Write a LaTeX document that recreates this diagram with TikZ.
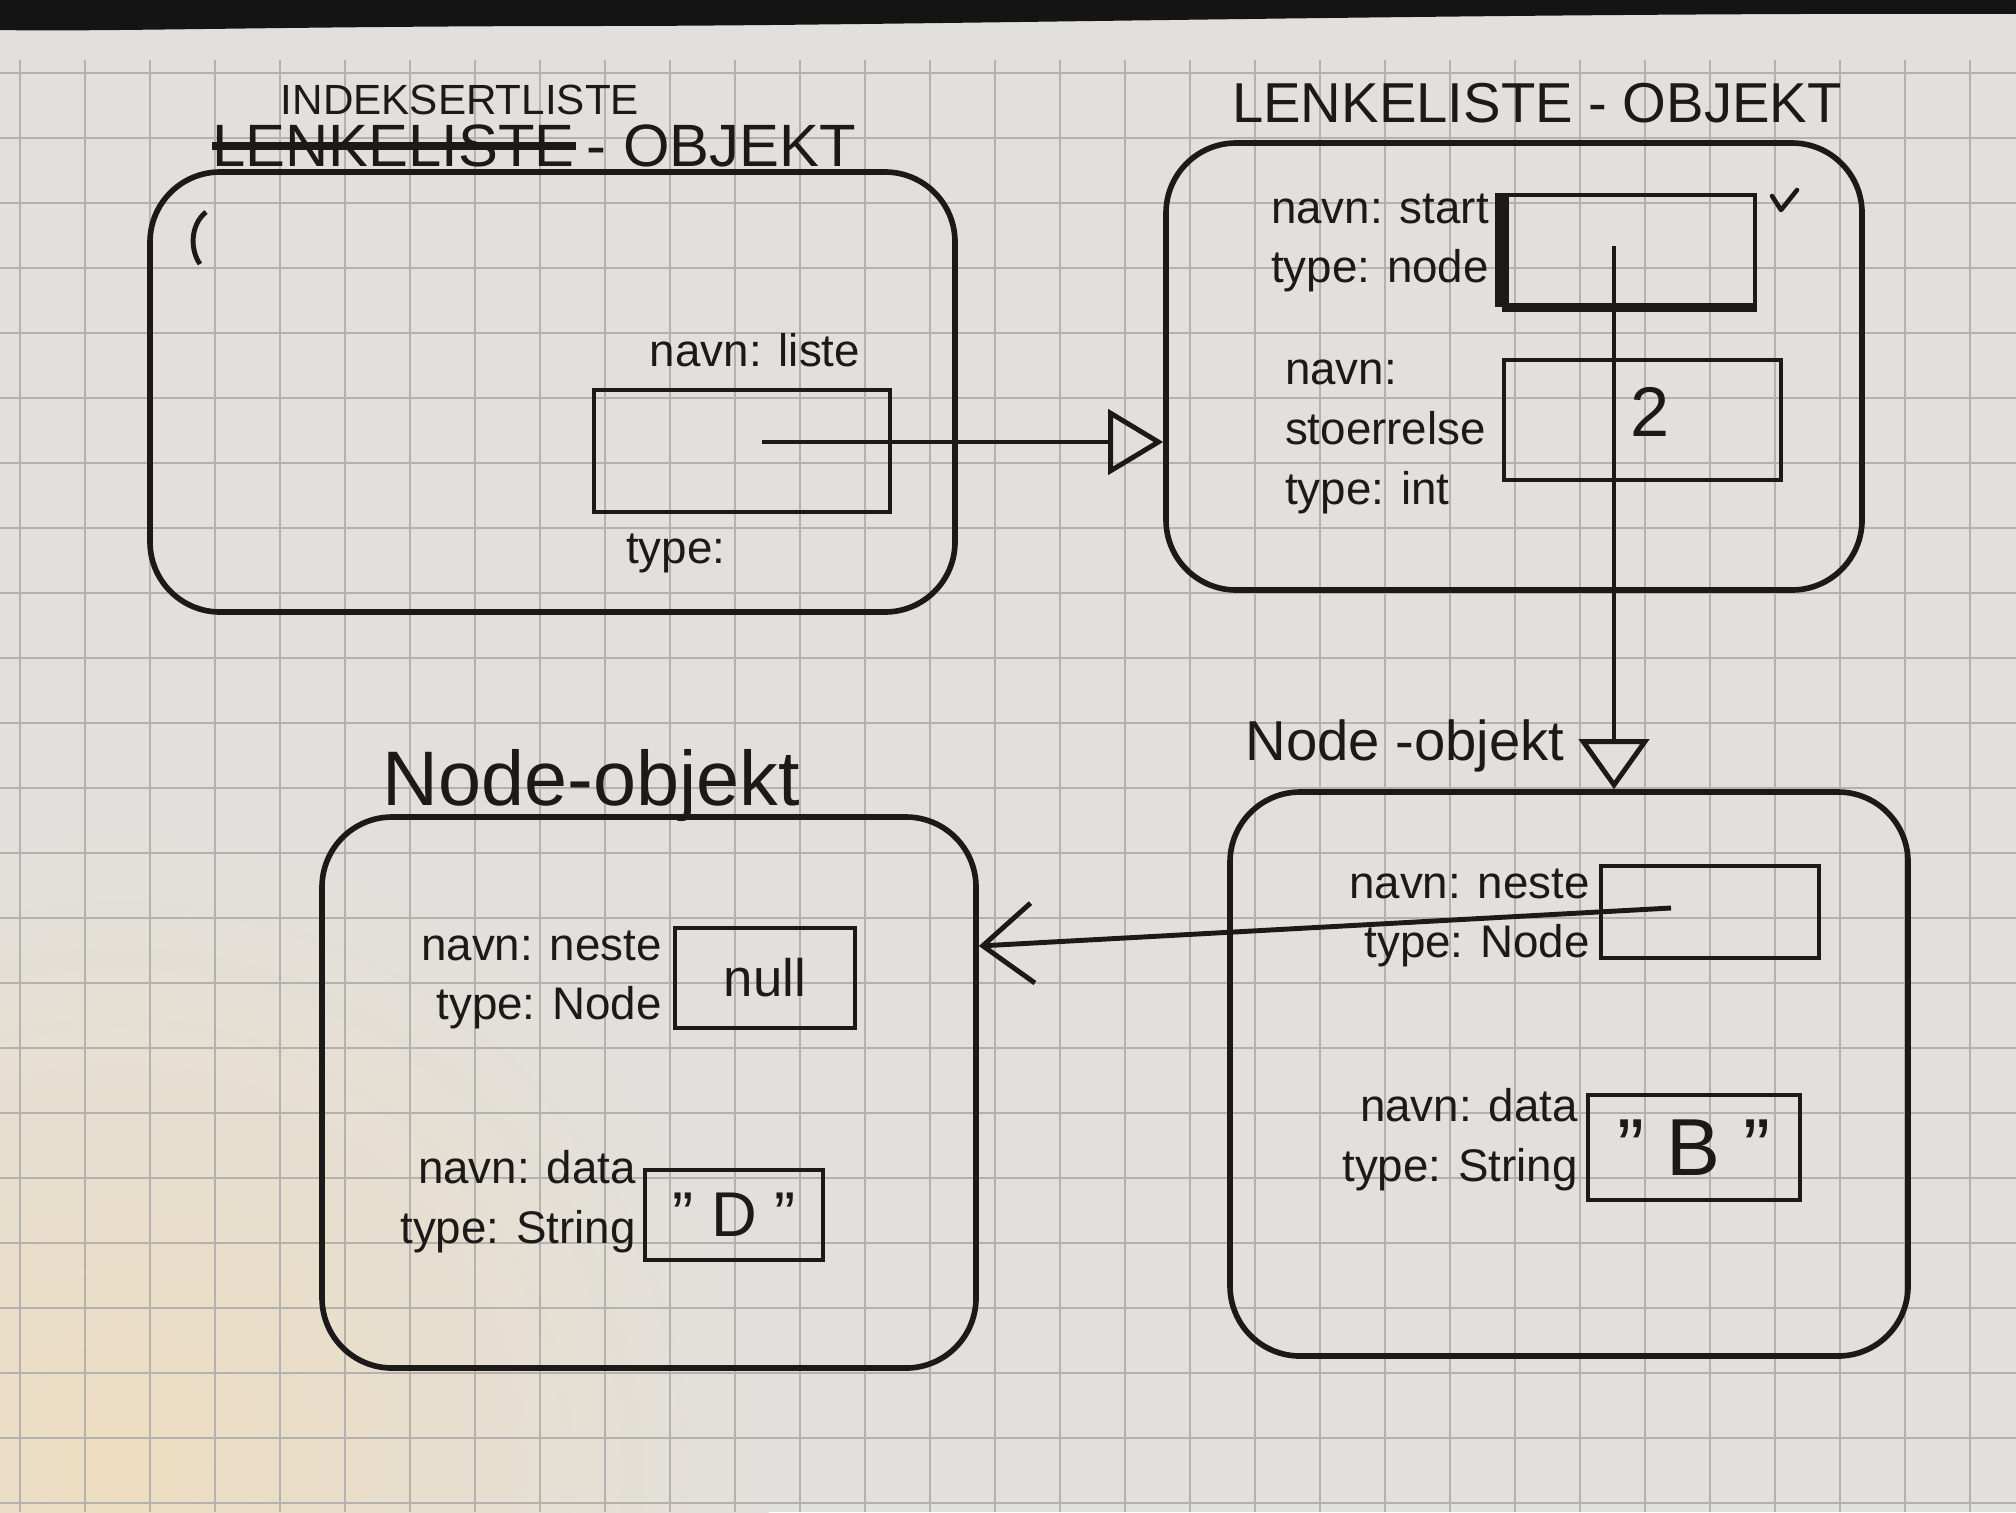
\documentclass[tikz,border=0pt]{standalone}
\usepackage{fontspec}
\setmainfont{Liberation Sans}
\usetikzlibrary{arrows.meta,fit}

\definecolor{paper}{HTML}{E2E0DC}
\definecolor{warm}{HTML}{EDDCC0}
\definecolor{gridline}{HTML}{B4B2AF}
\definecolor{ink}{HTML}{1B1A19}

\begin{document}
\begin{tikzpicture}[x=0.01cm, y=-0.01cm,
  objbox/.style={draw=ink, line width=1.6pt, rounded corners=0.7cm, inner sep=0pt},
  fieldbox/.style={draw=ink, line width=1.4pt, inner sep=0pt},
  lbl/.style={font=\fontsize{13}{17}\selectfont, text=ink, inner sep=1pt},
  val/.style={text=ink, inner sep=1pt},
  ttl/.style={text=ink, inner sep=0pt},
  ptr/.style={draw=ink, line width=1.4pt},
  gridrule/.style={draw=gridline, line width=0.6pt},
]
\useasboundingbox (0,0) rectangle (2016,1512);

% squared paper
\fill[paper] (0,0) rectangle (2016,1512);
\shade[inner color=warm, outer color=paper] (120,1470) circle (650);
\fill[black!92] (0,0) -- (2016,0) -- (2016,14)
  .. controls (1500,12) and (900,26) .. (600,26)
  .. controls (300,26) and (100,32) .. (0,30) -- cycle;
\foreach \gx in {20,85,...,2016} \draw[gridrule] (\gx,60) -- (\gx,1512);
\foreach \gy in {73,138,...,1512} \draw[gridrule] (0,\gy) -- (2016,\gy);

% ---- object frames ----
\node[objbox, fit={(150,172) (955,612)}] (indeks) {};
\node[objbox, fit={(1166,143) (1862,590)}] (lenke) {};
\node[objbox, fit={(1230,792) (1908,1356)}] (nodeB) {};
\node[objbox, fit={(322,817) (976,1368)}] (nodeD) {};
\draw[ink, line width=1.4pt] (206,212) .. controls (190,225) and (190,250) .. (200,264);

% ---- titles ----
\node[ttl, font=\fontsize{12}{14}\selectfont] (t1a) at (460,100) {INDEKSERTLISTE};
\node[ttl, font=\fontsize{17}{20}\selectfont, anchor=west] (t1b) at (212,146) {LENKELISTE};
\draw[ink, line width=2.4pt] (t1b.west) -- (t1b.east);
\node[ttl, font=\fontsize{17}{20}\selectfont, anchor=west] (t1c) at ([xshift=3pt]t1b.east) {- OBJEKT};
\node[ttl, font=\fontsize{16}{19}\selectfont] (t2) at (1537,103) {LENKELISTE - OBJEKT};
\node[ttl, font=\fontsize{16}{19}\selectfont] (t3) at (1405,746) {Node -objekt};
\node[ttl, font=\fontsize{22}{24}\selectfont] (t4) at (591,785) {Node-objekt};

% ---- indeksert liste: field liste ----
\node[fieldbox, fit={(594,390) (890,512)}] (liste) {};
\node[lbl] (liste-navn) at (755,350) {navn: liste};
\node[lbl, anchor=west] (liste-type) at (622,553) {type:};
\coordinate (p1) at (762,442);

% ---- lenkeliste: fields start and stoerrelse ----
\node[fieldbox, fit={(1504,195) (1755,305)}] (start) {};
\draw[ink, line width=4pt] (start.north west) -- (start.south west);
\draw[ink, line width=2.6pt] (start.south west) -- (start.south east);
\draw[ink, line width=1.3pt, line cap=round, line join=round]
  (1772,196) -- (1781,210) -- (1797,190);
\node[lbl, anchor=east, align=right] (start-lbl) at (1493,243) {navn: start\\type: node};
\coordinate (p2) at (1614,246);

\node[fieldbox, fit={(1504,360) (1781,480)}] (size) {};
\node[val, font=\fontsize{20}{22}\selectfont] (size-val) at (1650,412) {2};
\node[lbl, anchor=east, align=left] (size-lbl) at (1490,437) {navn:\\stoerrelse\\type: int};

% ---- node B: fields neste and data ----
\node[fieldbox, fit={(1601,866) (1819,958)}] (nesteB) {};
\node[lbl, anchor=east, align=right] (nesteB-lbl) at (1594,918) {navn: neste\\type: Node};
\coordinate (p3) at (1671,908);
\coordinate (lvl) at (0,946);

\node[fieldbox, fit={(1588,1095) (1800,1200)}] (dataB) {};
\node[val, font=\fontsize{23}{25}\selectfont] (dataB-val) at (dataB.center) {" B "};
\node[lbl, anchor=east, align=right] (dataB-lbl) at (1582,1140) {navn: data\\type: String};

% ---- node D: fields neste and data ----
\node[fieldbox, fit={(675,928) (855,1028)}] (nesteD) {};
\node[val, font=\fontsize{15}{17}\selectfont] (nesteD-val) at (nesteD.center) {null};
\node[lbl, anchor=east, align=right] (nesteD-lbl) at (666,980) {navn: neste\\type: Node};

\node[fieldbox, fit={(645,1170) (823,1260)}] (dataD) {};
\node[val, font=\fontsize{18}{20}\selectfont] (dataD-val) at (dataD.center) {" D "};
\node[lbl, anchor=east, align=right] (dataD-lbl) at (640,1202) {navn: data\\type: String};

% ---- references ----
\draw[ptr, -{Triangle[open, length=0.55cm, width=0.65cm, line width=1.4pt]}]
  (p1) -- (p1 -| lenke.west);
\draw[ptr, -{Triangle[open, length=0.5cm, width=0.7cm, line width=1.4pt]}]
  (p2) -- (p2 |- nodeB.north);
\draw[ptr, -{Straight Barb[length=0.5cm, width=0.8cm, line width=1.4pt]}]
  (p3) -- (nodeD.east |- lvl);
\end{tikzpicture}
\end{document}
